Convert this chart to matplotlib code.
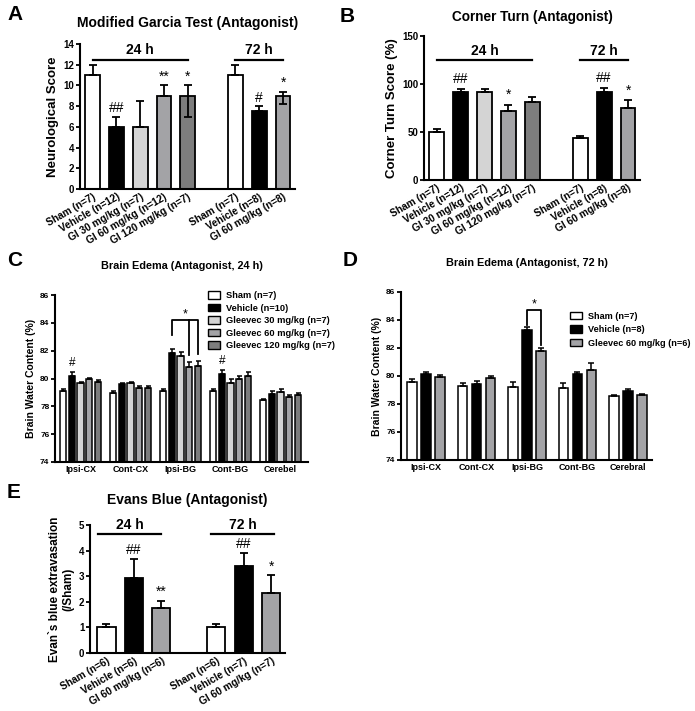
import matplotlib
matplotlib.use("Agg")
import matplotlib.pyplot as plt
import numpy as np
from matplotlib.patches import Patch

plt.rcParams['font.family'] = ['Liberation Sans', 'DejaVu Sans']
plt.rcParams['font.weight'] = 'bold'
plt.rcParams['axes.titleweight'] = 'bold'
plt.rcParams['axes.labelweight'] = 'bold'

# ---------------- data ----------------
# Panel A: Modified Garcia Test
a_labels = ["Sham (n=7)", "Vehicle (n=12)", "GI 30 mg/kg (n=7)", "GI 60 mg/kg (n=12)", "GI 120 mg/kg (n=7)",
            "Sham (n=7)", "Vehicle (n=8)", "GI 60 mg/kg (n=8)"]
a_vals = [11, 6, 6, 9, 9, 11, 7.5, 9]
a_err_hi = [1, 1, 2.5, 1, 1, 1, 0.5, 0.4]
a_err_lo = [0, 0, 0, 0, 2, 0, 0, 0.8]
a_marks = ["", "##", "", "**", "*", "", "#", "*"]

# Panel B: Corner Turn
b_labels = a_labels
b_vals = [50, 92, 92, 72, 81, 44, 92, 75]
b_err = [3, 3, 3, 6, 5, 2, 4, 8]
b_marks = ["", "##", "", "*", "", "", "##", "*"]

# Panel C: Brain edema 24 h
regions_c = ["Ipsi-CX", "Cont-CX", "Ipsi-BG", "Cont-BG", "Cerebel"]
c_series = ["Sham (n=7)", "Vehicle (n=10)", "Gleevec 30 mg/kg (n=7)", "Gleevec 60 mg/kg (n=7)", "Gleevec 120 mg/kg (n=7)"]
c_sham = [79.1, 78.95, 79.1, 79.1, 78.45]
c_veh = [80.2, 79.6, 81.85, 80.35, 78.92]
c_g30 = [79.65, 79.65, 81.6, 79.65, 79.05]
c_g60 = [79.95, 79.35, 80.8, 80.0, 78.68]
c_g120 = [79.75, 79.35, 80.9, 80.15, 78.85]
c_sham_err = [0.18, 0.18, 0.12, 0.18, 0.1]
c_veh_err = [0.28, 0.08, 0.3, 0.25, 0.15]
c_g30_err = [0.12, 0.12, 0.3, 0.28, 0.18]
c_g60_err = [0.12, 0.14, 0.35, 0.2, 0.1]
c_g120_err = [0.12, 0.1, 0.35, 0.35, 0.14]

# Panel D: Brain edema 72 h
regions_d = ["Ipsi-CX", "Cont-CX", "Ipsi-BG", "Cont-BG", "Cerebral"]
d_series = ["Sham (n=7)", "Vehicle (n=8)", "Gleevec 60 mg/kg (n=6)"]
d_sham = [79.57, 79.3, 79.2, 79.16, 78.55]
d_veh = [80.12, 79.45, 83.29, 80.12, 78.92]
d_g60 = [79.93, 79.86, 81.77, 80.41, 78.65]
d_sham_err = [0.2, 0.17, 0.37, 0.34, 0.1]
d_veh_err = [0.17, 0.2, 0.23, 0.17, 0.18]
d_g60_err = [0.17, 0.14, 0.2, 0.53, 0.06]

# Panel E: Evans blue
e_labels = ["Sham (n=6)", "Vehicle (n=6)", "GI 60 mg/kg (n=6)", "Sham (n=6)", "Vehicle (n=7)", "GI 60 mg/kg (n=7)"]
e_vals = [1.0, 2.93, 1.75, 1.0, 3.38, 2.35]
e_err = [0.15, 0.73, 0.28, 0.15, 0.52, 0.68]
e_marks = ["", "##", "**", "", "##", "*"]

# ---------------- style ----------------
WHITE, BLACK, G30, G60, G120 = "#ffffff", "#000000", "#d4d4d4", "#a3a3a6", "#7d7d7d"
LW = 1.3

fig = plt.figure(figsize=(6.95, 7.11), dpi=100)

def style_ax(ax):
    for s in ["top", "right"]:
        ax.spines[s].set_visible(False)
    for s in ["left", "bottom"]:
        ax.spines[s].set_linewidth(1.5)
    ax.tick_params(axis="y", direction="out", length=3, width=1.3, labelsize=7, pad=1)
    ax.tick_params(axis="x", length=0, labelsize=7.3, pad=2)

def px_axes(x0, x1, ytop, ybot):
    W, H = 695, 711
    return fig.add_axes([x0 / W, 1 - ybot / H, (x1 - x0) / W, (ybot - ytop) / H])

def group_bars(ax, pos, vals, colors, width, err_lo, err_hi):
    ax.bar(pos, vals, width=width, color=colors, edgecolor="black", linewidth=LW, zorder=2)
    ax.errorbar(pos, vals, yerr=[err_lo, err_hi], fmt="none", ecolor="black",
                elinewidth=LW, capsize=3.2, capthick=LW, zorder=3)

# ---------------- Panel A ----------------
posAB = [0, 1, 2, 3, 4, 6, 7, 8]
colsAB = [WHITE, BLACK, G30, G60, G120, WHITE, BLACK, G60]
axA = px_axes(80, 295, 44, 189)
style_ax(axA)
group_bars(axA, posAB, a_vals, colsAB, 0.62, a_err_lo, a_err_hi)
axA.set_xlim(-0.53, 8.5)
axA.set_ylim(0, 14)
axA.set_yticks(range(0, 15, 2))
axA.set_xticks(posAB)
axA.set_xticklabels(a_labels, rotation=30, ha="right", rotation_mode="anchor")
axA.set_ylabel("Neurological Score", fontsize=9.5, labelpad=3)
axA.set_title("Modified Garcia Test (Antagonist)", fontsize=10, pad=12)
for p, v, e, m in zip(posAB, a_vals, a_err_hi, a_marks):
    if m:
        axA.text(p, v + e + 0.15, m, ha="center", va="bottom", fontsize=10, fontweight="normal")
axA.plot([0, 4], [12.5, 12.5], color="black", lw=1.6, clip_on=False)
axA.plot([6, 8], [12.5, 12.5], color="black", lw=1.6, clip_on=False)
axA.text(2, 12.7, "24 h", ha="center", va="bottom", fontsize=10)
axA.text(7, 12.7, "72 h", ha="center", va="bottom", fontsize=10)

# ---------------- Panel B ----------------
axB = px_axes(424, 640, 36, 180)
style_ax(axB)
group_bars(axB, posAB, b_vals, colsAB, 0.62, [0] * 8, b_err)
axB.set_xlim(-0.53, 8.5)
axB.set_ylim(0, 150)
axB.set_yticks([0, 50, 100, 150])
axB.set_xticks(posAB)
axB.set_xticklabels(b_labels, rotation=30, ha="right", rotation_mode="anchor")
axB.set_ylabel("Corner Turn Score (%)", fontsize=9.5, labelpad=3)
axB.set_title("Corner Turn (Antagonist)", fontsize=9.8, pad=11)
for p, v, e, m in zip(posAB, b_vals, b_err, b_marks):
    if m:
        axB.text(p, v + e + 3, m, ha="center", va="bottom", fontsize=10, fontweight="normal")
axB.plot([0, 4], [125, 125], color="black", lw=1.6, clip_on=False)
axB.plot([6, 8], [125, 125], color="black", lw=1.6, clip_on=False)
axB.text(2, 127, "24 h", ha="center", va="bottom", fontsize=10)
axB.text(7, 127, "72 h", ha="center", va="bottom", fontsize=10)

# ---------------- Panel C ----------------
axC = px_axes(55, 308, 295, 462)
style_ax(axC)
c_vals = [c_sham, c_veh, c_g30, c_g60, c_g120]
c_errs = [c_sham_err, c_veh_err, c_g30_err, c_g60_err, c_g120_err]
c_cols = [WHITE, BLACK, G30, G60, G120]
gx = np.arange(len(regions_c))
wc = 0.173
for j in range(5):
    pos = gx + (j - 2) * wc
    axC.bar(pos, c_vals[j], width=0.13, bottom=0, color=c_cols[j], edgecolor="black", linewidth=1.1, zorder=2)
    axC.errorbar(pos, c_vals[j], yerr=[[0] * 5, c_errs[j]], fmt="none", ecolor="black",
                 elinewidth=1.1, capsize=1.8, capthick=1.1, zorder=3)
axC.set_xlim(-0.51, 4.55)
axC.set_ylim(74, 86)
axC.set_yticks(range(74, 87, 2))
axC.tick_params(axis="y", labelsize=6)
axC.set_xticks(gx)
axC.set_xticklabels(regions_c, fontsize=6.5)
axC.set_ylabel("Brain Water Content (%)", fontsize=7.5, labelpad=3)
axC.set_title("Brain Edema (Antagonist, 24 h)", fontsize=7.8, pad=19)
axC.text(gx[0] - wc, c_veh[0] + c_veh_err[0] + 0.2, "#", ha="center", va="bottom", fontsize=8.5, fontweight="normal")
axC.text(gx[3] - wc, c_veh[3] + c_veh_err[3] + 0.2, "#", ha="center", va="bottom", fontsize=8.5, fontweight="normal")
xb = [gx[2] - wc, gx[2] + wc, gx[2] + 2 * wc]
axC.plot([xb[0], xb[0], xb[2], xb[2]], [83.1, 84.2, 84.2, 81.75], color="black", lw=1.3)
axC.plot([xb[1], xb[1]], [84.2, 81.7], color="black", lw=1.3)
axC.text((xb[0] + xb[2]) / 2, 84.15, "*", ha="center", va="bottom", fontsize=9, fontweight="normal")
axC.legend(handles=[Patch(facecolor=c, edgecolor="black", linewidth=1.0) for c in c_cols],
           labels=c_series, loc="upper left", bbox_to_anchor=(0.59, 1.045), frameon=False,
           fontsize=6.7, handlelength=1.3, handleheight=0.85, labelspacing=0.38, handletextpad=0.6,
           borderaxespad=0)

# ---------------- Panel D ----------------
axD = px_axes(401, 652, 292, 460)
style_ax(axD)
d_vals = [d_sham, d_veh, d_g60]
d_errs = [d_sham_err, d_veh_err, d_g60_err]
d_cols = [WHITE, BLACK, G60]
gd = np.arange(len(regions_d))
wd = 0.278
for j in range(3):
    pos = gd + (j - 1) * wd
    axD.bar(pos, d_vals[j], width=0.19, color=d_cols[j], edgecolor="black", linewidth=1.1, zorder=2)
    axD.errorbar(pos, d_vals[j], yerr=[[0] * 5, d_errs[j]], fmt="none", ecolor="black",
                 elinewidth=1.1, capsize=2.5, capthick=1.1, zorder=3)
axD.set_xlim(-0.5, 4.48)
axD.set_ylim(74, 86)
axD.set_yticks(range(74, 87, 2))
axD.tick_params(axis="y", labelsize=6)
axD.set_xticks(gd)
axD.set_xticklabels(regions_d, fontsize=6.5)
axD.set_ylabel("Brain Water Content (%)", fontsize=7.5, labelpad=3)
axD.set_title("Brain Edema (Antagonist, 72 h)", fontsize=7.8, pad=19)
xl, xr = gd[2], gd[2] + wd
axD.plot([xl, xl, xr, xr], [83.65, 84.72, 84.72, 82.2], color="black", lw=1.3)
axD.text((xl + xr) / 2, 84.7, "*", ha="center", va="bottom", fontsize=9, fontweight="normal")
axD.legend(handles=[Patch(facecolor=c, edgecolor="black", linewidth=1.0) for c in d_cols],
           labels=d_series, loc="upper left", bbox_to_anchor=(0.66, 0.905), frameon=False,
           fontsize=6.6, handlelength=1.3, handleheight=0.85, labelspacing=0.5, handletextpad=0.6,
           borderaxespad=0)

# ---------------- Panel E ----------------
posE = [0, 1, 2, 4, 5, 6]
colsE = [WHITE, BLACK, G60, WHITE, BLACK, G60]
axE = px_axes(90, 285, 525, 653)
style_ax(axE)
group_bars(axE, posE, e_vals, colsE, 0.66, [0] * 6, e_err)
axE.set_xlim(-0.6, 6.5)
axE.set_ylim(0, 5)
axE.set_yticks(range(6))
axE.set_xticks(posE)
axE.set_xticklabels(e_labels, rotation=30, ha="right", rotation_mode="anchor")
axE.set_ylabel("Evan`s blue extravasation\n(/Sham)", fontsize=8.5, labelpad=3)
axE.set_title("Evans Blue (Antagonist)", fontsize=10, pad=15)
for p, v, e, m in zip(posE, e_vals, e_err, e_marks):
    if m:
        axE.text(p, v + e + 0.08, m, ha="center", va="bottom", fontsize=10, fontweight="normal")
axE.plot([-0.3, 2], [4.64, 4.64], color="black", lw=1.6, clip_on=False)
axE.plot([3.8, 6.1], [4.64, 4.64], color="black", lw=1.6, clip_on=False)
axE.text(0.85, 4.72, "24 h", ha="center", va="bottom", fontsize=10)
axE.text(4.95, 4.72, "72 h", ha="center", va="bottom", fontsize=10)

# panel letters
for lab, x, y in [("A", 7, 15), ("B", 340, 16), ("C", 7, 260), ("D", 343, 260), ("E", 7, 492)]:
    fig.text(x / 695, 1 - y / 711, lab, fontsize=15, fontweight="bold", ha="left", va="center")

fig.savefig("out.png", dpi=100)
